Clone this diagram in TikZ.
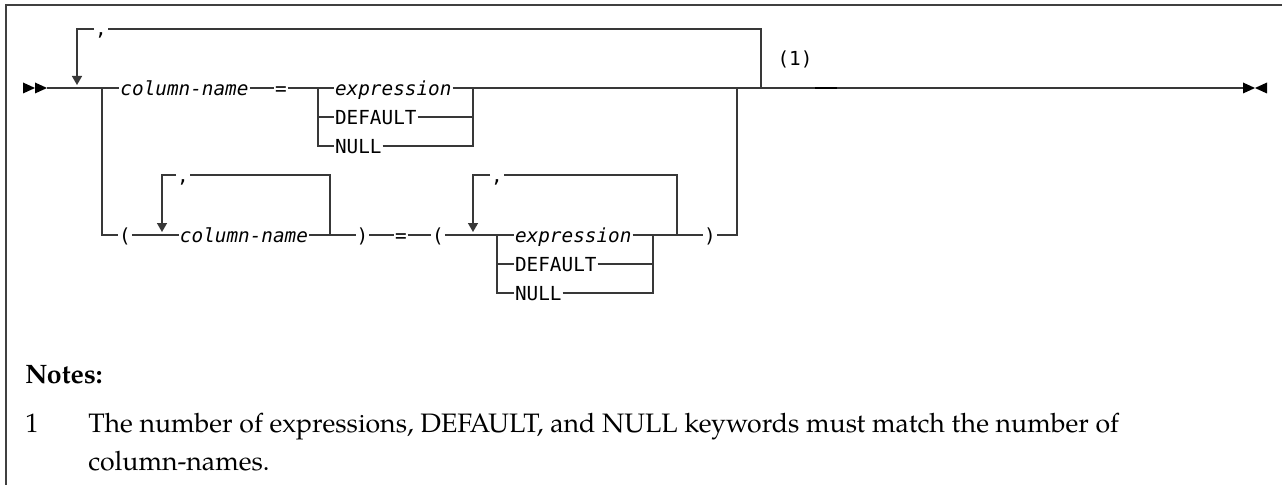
\documentclass[tikz,border=0pt]{standalone}
\usepackage{fontspec}
\newfontfamily\rrmono{DejaVu Sans Mono}
\newfontfamily\notefont{TeX Gyre Pagella}
\usetikzlibrary{arrows.meta}
\tikzset{
  rail/.style={draw=black!78, line width=1.1pt},
  backarrow/.style={rail, -{Triangle[length=6.75pt,width=7.5pt]}},
  lbl/.style={font=\rrmono\fontsize{14.5}{16}\selectfont, inner ysep=0pt, inner xsep=0.8pt, outer sep=0pt, text height=11.25pt, text depth=0.75pt},
  kw/.style={lbl, anchor=west},
  fnote/.style={font=\rrmono\fontsize{14.5}{16}\selectfont, inner sep=0pt},
  notetxt/.style={font=\notefont\fontsize{20}{24}\selectfont, inner sep=0pt, anchor=base west},
  marker/.style={fill=black, draw=none},
  framestyle/.style={draw=black!75, line width=1.1pt},
}
\begin{document}
\begin{tikzpicture}[x=0.75pt,y=-0.75pt]
\useasboundingbox (0,0) rectangle (1282,485);
% frame
\draw[framestyle] (6,485) -- (6,5) -- (1282,5);

% ---------- coordinates ----------
\coordinate (start) at (47,88);
\coordinate (a1) at (77,85);
\coordinate (b1) at (102,88);
\coordinate (b2) at (318,88);
\coordinate (m1) at (473,88);
\coordinate (v1) at (737,88);
\coordinate (lp) at (761,88);
\coordinate (d1) at (815,88);
\coordinate (d2) at (837,88);
\coordinate (fin) at (1243,88);
\coordinate (a2) at (162,232);
\coordinate (r2) at (330,235);
\coordinate (b3) at (497,235);
\coordinate (m2) at (653,235);
\coordinate (r3) at (677,235);
\coordinate (a3) at (473,232);

% ---------- nodes ----------
\node[lbl] (c1) at (101,29) {,};
\node[lbl] (col1) at (184.5,88) {\itshape column-name};
\node[lbl] (eq1) at (281,88) {=};
\node[kw] (expr1) at (334,88) {\itshape expression};
\node[kw] (def1) at (334,117) {DEFAULT};
\node[kw] (null1) at (334,146) {NULL};
\node[fnote] (fn) at (795,59) {(1)};

\node[lbl] (lp1) at (125,235) {(};
\node[lbl] (c2) at (183,175) {,};
\node[lbl] (col2) at (244,235) {\itshape column-name};
\node[lbl] (rp1) at (362.5,235) {)};
\node[lbl] (eq2) at (401,235) {=};
\node[lbl] (lp2) at (438,235) {(};
\node[lbl] (c3) at (497,175) {,};
\node[kw] (expr2) at (514,235) {\itshape expression};
\node[kw] (def2) at (514,264) {DEFAULT};
\node[kw] (null2) at (514,293) {NULL};
\node[lbl] (rp2) at (710,235) {)};

% ---------- start / end markers ----------
\fill[marker] (23,82.5) -- (35,88) -- (23,93.5) -- cycle;
\fill[marker] (35,82.5) -- (47,88) -- (35,93.5) -- cycle;
\fill[marker] (1243,82.5) -- (1255,88) -- (1243,93.5) -- cycle;
\fill[marker] (1267,82.5) -- (1255,88) -- (1267,93.5) -- cycle;

% ---------- top row ----------
\draw[rail] (start) -- (b1) -- (col1.west);
\draw[rail] (col1.east) -- (eq1.west);
\draw[rail] (eq1.east) -- (b2) -- (expr1.west);
\draw[rail] (b2) |- (null1.west);
\draw[rail] (b2 |- def1.west) -- (def1.west);
\draw[rail] (expr1.east) -- (m1);
\draw[rail] (def1.east) -- (m1 |- def1.east);
\draw[rail] (null1.east) -| (m1);
\draw[rail] (m1) -- (v1) -- (lp) -- (fin);
\draw[rail] (lp) |- (c1.east);
\draw[backarrow] (c1.west) -| (a1);
\draw[line width=2pt, black] (d1) -- (d2);

% ---------- lower row ----------
\draw[rail] (b1) |- (lp1.west);
\draw[rail] (lp1.east) -- (col2.west);
\draw[rail] (col2.east) -- (r2) -- (rp1.west);
\draw[rail] (r2) |- (c2.east);
\draw[backarrow] (c2.west) -| (a2);
\draw[rail] (rp1.east) -- (eq2.west);
\draw[rail] (eq2.east) -- (lp2.west);
\draw[rail] (lp2.east) -- (b3) -- (expr2.west);
\draw[rail] (b3) |- (null2.west);
\draw[rail] (b3 |- def2.west) -- (def2.west);
\draw[rail] (expr2.east) -- (m2);
\draw[rail] (def2.east) -- (m2 |- def2.east);
\draw[rail] (null2.east) -| (m2);
\draw[rail] (m2) -- (r3) -- (rp2.west);
\draw[rail] (r3) |- (c3.east);
\draw[backarrow] (c3.west) -| (a3);
\draw[rail] (rp2.east) -| (v1);

% ---------- notes ----------
\node[notetxt, font=\notefont\bfseries\fontsize{20}{24}\selectfont] (notes) at (25,383) {Notes:};
\node[notetxt] (n1) at (25,432) {1};
\node[notetxt] (n1a) at (88,432) {The number of expressions, DEFAULT, and NULL keywords must match the number of};
\node[notetxt] (n1b) at (88,470) {column-names.};
\end{tikzpicture}
\end{document}
